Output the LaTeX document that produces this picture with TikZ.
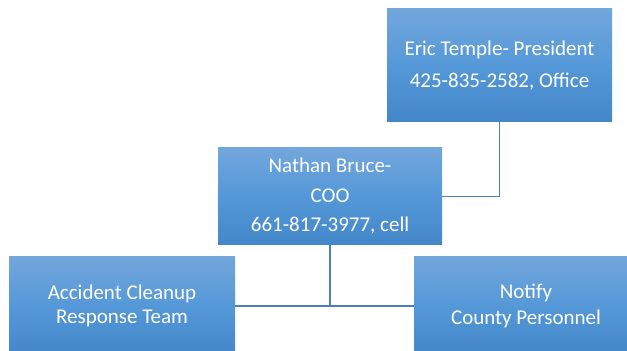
\documentclass[tikz,border=0pt]{standalone}
\usepackage{fontspec}
\setmainfont{Carlito}
\usepackage{xcolor}
\definecolor{boxtop}{RGB}{114,166,220}
\definecolor{boxmid}{RGB}{85,152,216}
\definecolor{boxbot}{RGB}{68,135,201}
\definecolor{linkcol}{RGB}{76,126,186}
\newcommand{\boxfont}[1]{\fontsize{21}{#1}\selectfont}

\begin{document}
\begin{tikzpicture}[x=1pt, y=1pt,
  orgbox/.style={rectangle, inner sep=0pt, text=white, align=center,
    top color=boxtop, bottom color=boxbot, middle color=boxmid},
  link/.style={draw=linkcol, line width=1.1pt}]
\useasboundingbox (0,0) rectangle (627,351);

% boxes
\node[orgbox, minimum width=225, minimum height=113, font=\boxfont{32}]
  (eric) at (499.5, 285.5) {Eric Temple- President\\425-835-2582, Office};
\node[orgbox, minimum width=224, minimum height=97, font=\boxfont{29.5}]
  (nathan) at (330, 154.5) {Nathan Bruce-\\COO\\661-817-3977, cell};
\node[orgbox, minimum width=226, minimum height=98, font=\boxfont{24}]
  (cleanup) at (122, 45) {Accident Cleanup\\Response Team};
\node[orgbox, minimum width=224, minimum height=98, font=\boxfont{26}]
  (notify) at (526, 45) {Notify\\County Personnel};

% connectors
\draw[link] (eric.south) |- (nathan.east);
\draw[link] (nathan.south) -- (nathan.south |- cleanup.east);
\draw[link] (cleanup.east) -- (notify.west);
\end{tikzpicture}
\end{document}
